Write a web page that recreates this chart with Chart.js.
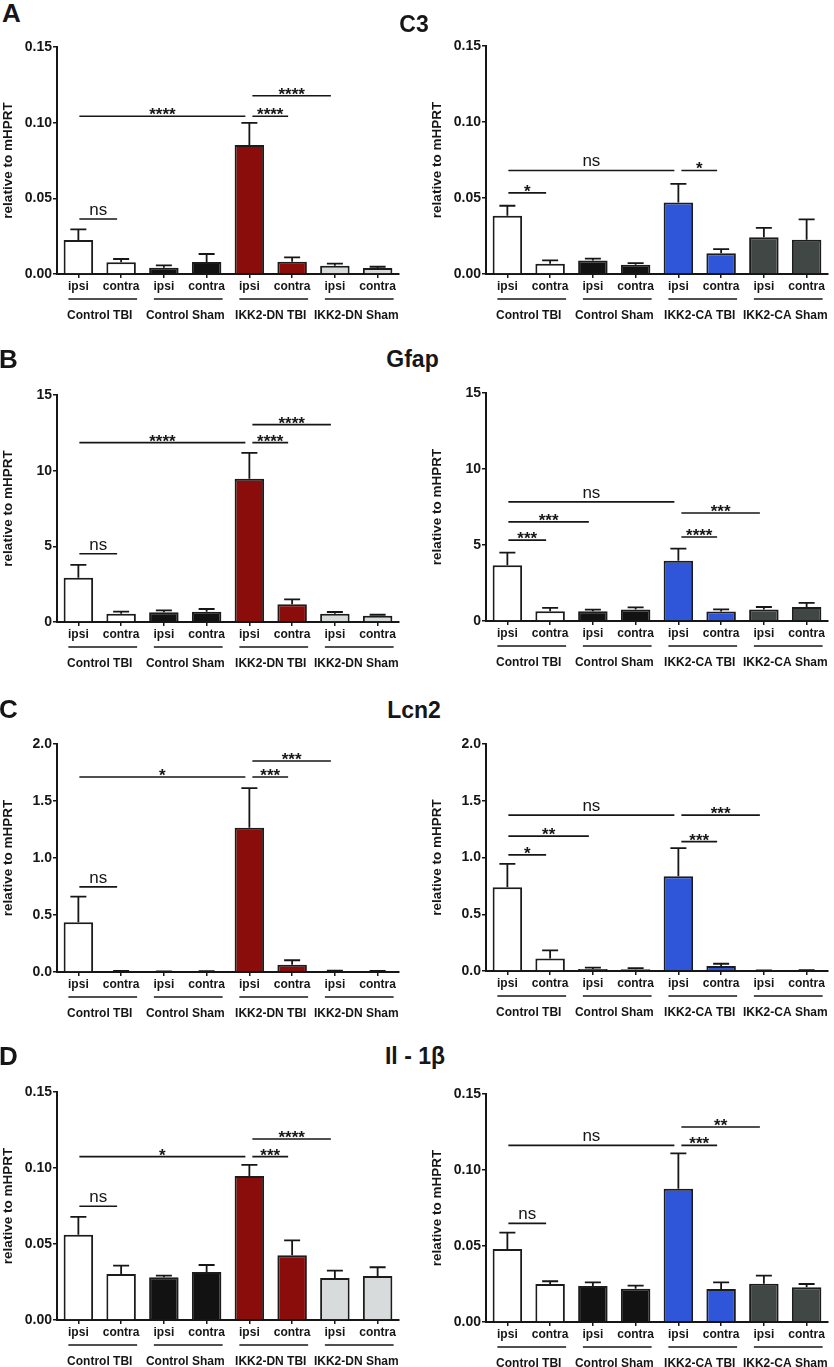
<!DOCTYPE html>
<html><head><meta charset="utf-8">
<script src="https://cdn.jsdelivr.net/npm/chart.js@4.4.0/dist/chart.umd.min.js"></script>
<style>
html,body{margin:0;padding:0;background:#fff;overflow:hidden;}
#fig{position:relative;width:834px;height:1367px;overflow:hidden;font-family:"Liberation Sans",Arial,sans-serif;}
#fig canvas{position:absolute;}
.lbl{position:absolute;font-weight:bold;color:#161616;line-height:1;white-space:nowrap;}
</style></head><body><div id="fig"></div>
<script>
// ---------- DATA ----------
const categories = ['ipsi','contra','ipsi','contra','ipsi','contra','ipsi','contra'];
const groupsDN = ['Control TBI','Control Sham','IKK2-DN TBI','IKK2-DN Sham'];
const groupsCA = ['Control TBI','Control Sham','IKK2-CA TBI','IKK2-CA Sham'];
const geneTitles = ['C3','Gfap','Lcn2','Il - 1β'];
const panelLetters = ['A','B','C','D'];
const yTitle = 'relative to mHPRT';

// C3
const c3DN      = [0.0225,0.0077,0.0042,0.0079,0.0852,0.0081,0.0055,0.0040];
const c3DNErr   = [0.0070,0.0022,0.0015,0.0053,0.0146,0.0029,0.0013,0.0008];
const c3CA      = [0.0383,0.0068,0.0088,0.0061,0.0471,0.0136,0.0241,0.0225];
const c3CAErr   = [0.0066,0.0022,0.0013,0.0011,0.0122,0.0028,0.0063,0.0134];
// Gfap
const gfapDN    = [2.93,0.55,0.64,0.68,9.47,1.17,0.55,0.42];
const gfapDNErr = [0.84,0.13,0.13,0.18,1.70,0.33,0.11,0.06];
const gfapCA    = [3.67,0.64,0.64,0.75,3.97,0.62,0.75,0.92];
const gfapCAErr = [0.83,0.22,0.11,0.15,0.79,0.15,0.17,0.27];
// Lcn2
const lcn2DN    = [0.437,0.005,0.003,0.004,1.265,0.064,0.008,0.006];
const lcn2DNErr = [0.224,0.005,0.002,0.003,0.348,0.039,0.004,0.004];
const lcn2CA    = [0.738,0.111,0.018,0.016,0.835,0.044,0.004,0.005];
const lcn2CAErr = [0.206,0.071,0.011,0.010,0.247,0.020,0.002,0.002];
// Il-1b
const il1bDN    = [0.0561,0.0303,0.0281,0.0316,0.0947,0.0426,0.0276,0.0290];
const il1bDNErr = [0.0117,0.0055,0.0011,0.0046,0.0073,0.0098,0.0049,0.0057];
const il1bCA    = [0.0480,0.0250,0.0237,0.0219,0.0877,0.0217,0.0252,0.0228];
const il1bCAErr = [0.0108,0.0018,0.0024,0.0020,0.0233,0.0044,0.0053,0.0022];

// significance brackets: [fromBar, toBar, yValue, label]
const sigC3DN   = [[0,1,0.0363,'ns'],[0,4,0.1042,'****'],[4,5,0.1042,'****'],[4,6,0.1178,'****']];
const sigC3CA   = [[0,1,0.0534,'*'],[0,4,0.0681,'ns'],[4,5,0.0681,'*']];
const sigGfapDN = [[0,1,4.51,'ns'],[0,4,11.85,'****'],[4,5,11.85,'****'],[4,6,13.04,'****']];
const sigGfapCA = [[0,1,5.32,'***'],[0,2,6.52,'***'],[0,4,7.84,'ns'],[4,5,5.53,'****'],[4,6,7.11,'***']];
const sigLcn2DN = [[0,1,0.747,'ns'],[0,4,1.71,'*'],[4,5,1.71,'***'],[4,6,1.851,'***']];
const sigLcn2CA = [[0,1,1.023,'*'],[0,2,1.188,'**'],[0,4,1.373,'ns'],[4,5,1.14,'***'],[4,6,1.373,'***']];
const sigIl1bDN = [[0,1,0.0748,'ns'],[0,4,0.1075,'*'],[4,5,0.1075,'***'],[4,6,0.1191,'****']];
const sigIl1bCA = [[0,1,0.0649,'ns'],[0,4,0.1162,'ns'],[4,5,0.1162,'***'],[4,6,0.1283,'**']];

// axis ranges
const yMax   = [0.15, 15, 2.0, 0.15];
const yStep  = [0.05, 5, 0.5, 0.05];
const yDec   = [2, 0, 1, 2];

// ---------- STYLE / LAYOUT ----------
const FONT = '"Liberation Sans", Arial, sans-serif';
const INK = '#161616';
const WHITE = '#ffffff', BLACK = '#121212', RED = '#8a0c0b', LGRAY = '#d8dbdb', BLUE = '#2f56d8', DGRAY = '#404745';
const colorsDN = [WHITE,WHITE,BLACK,BLACK,RED,RED,LGRAY,LGRAY];
const colorsCA = [WHITE,WHITE,BLACK,BLACK,BLUE,BLUE,DGRAY,DGRAY];

const panels = [
  {row:0, left:0,   top:47,    bottom:274,   vals:c3DN,   err:c3DNErr,   sig:sigC3DN,   groups:groupsDN, colors:colorsDN},
  {row:0, left:429, top:45.7,  bottom:274,   vals:c3CA,   err:c3CAErr,   sig:sigC3CA,   groups:groupsCA, colors:colorsCA},
  {row:1, left:0,   top:395,   bottom:622,   vals:gfapDN, err:gfapDNErr, sig:sigGfapDN, groups:groupsDN, colors:colorsDN},
  {row:1, left:429, top:393.3, bottom:621,   vals:gfapCA, err:gfapCAErr, sig:sigGfapCA, groups:groupsCA, colors:colorsCA},
  {row:2, left:0,   top:744.3, bottom:972,   vals:lcn2DN, err:lcn2DNErr, sig:sigLcn2DN, groups:groupsDN, colors:colorsDN},
  {row:2, left:429, top:743.7, bottom:970.3, vals:lcn2CA, err:lcn2CAErr, sig:sigLcn2CA, groups:groupsCA, colors:colorsCA},
  {row:3, left:0,   top:1091.7,bottom:1319.7,vals:il1bDN, err:il1bDNErr, sig:sigIl1bDN, groups:groupsDN, colors:colorsDN},
  {row:3, left:429, top:1094,  bottom:1322,  vals:il1bCA, err:il1bCAErr, sig:sigIl1bCA, groups:groupsCA, colors:colorsCA}
];

const PADTOP = 12, XH = 25, X2H = 30, YW = 57, CW = 405, PADR = 6;

function extrasPlugin(p){
  return {
    id:'extras',
    afterDatasetsDraw(chart){
      const {ctx, scales:{x, y}} = chart;
      ctx.save();
      // error bars (upper whisker)
      ctx.strokeStyle = INK; ctx.lineWidth = 1.8; ctx.lineCap = 'butt';
      p.vals.forEach((v,i)=>{
        const cx = x.getPixelForValue(i);
        const yb = y.getPixelForValue(v);
        const yt = y.getPixelForValue(v + p.err[i]);
        ctx.beginPath();
        ctx.moveTo(cx, yb); ctx.lineTo(cx, yt);
        ctx.moveTo(cx-8, yt); ctx.lineTo(cx+8, yt);
        ctx.stroke();
      });
      // significance brackets
      ctx.lineWidth = 1.6;
      p.sig.forEach(([a,b,val,label])=>{
        const x1 = x.getPixelForValue(a) + (a===4 ? 3 : 1);
        const x2 = x.getPixelForValue(b) - 4;
        const yy = y.getPixelForValue(val);
        ctx.beginPath(); ctx.moveTo(x1, yy); ctx.lineTo(x2, yy); ctx.stroke();
        ctx.fillStyle = INK; ctx.textAlign = 'center'; ctx.textBaseline = 'alphabetic';
        if (label === 'ns') {
          ctx.font = '17px ' + FONT;
          ctx.fillText(label, (x1+x2)/2, yy - 4);
        } else {
          ctx.font = 'bold 17px ' + FONT;
          ctx.fillText(label, (x1+x2)/2, yy + 4);
        }
      });
      // group underline segments
      ctx.lineWidth = 1.6;
      const gy = x.bottom;
      for (let g=0; g<4; g++){
        const a = x.getPixelForValue(2*g) - 10;
        const b = x.getPixelForValue(2*g+1) + 16;
        ctx.beginPath(); ctx.moveTo(a, gy); ctx.lineTo(b, gy); ctx.stroke();
      }
      ctx.restore();
    }
  };
}

const fig = document.getElementById('fig');

panels.forEach(p=>{
  const r = p.row;
  const plotH = p.bottom - p.top;
  const H = Math.round(PADTOP + plotH + XH + X2H);
  const cv = document.createElement('canvas');
  cv.width = CW; cv.height = H;
  cv.style.left = p.left + 'px';
  cv.style.top = (p.top - PADTOP) + 'px';
  cv.style.width = CW + 'px'; cv.style.height = H + 'px';
  fig.appendChild(cv);
  const tickFont = {family:FONT, size:12, weight:'bold'};
  new Chart(cv, {
    type:'bar',
    data:{
      labels:categories,
      datasets:[{
        data:p.vals,
        backgroundColor:p.colors,
        borderColor:'#1c1c1c',
        borderWidth:2,
        borderSkipped:'start',
        barPercentage:0.69,
        categoryPercentage:1
      }]
    },
    options:{
      responsive:false, animation:false, devicePixelRatio:1,
      layout:{padding:{top:PADTOP, left:0, right:PADR, bottom:0}},
      plugins:{legend:{display:false}, tooltip:{enabled:false}, title:{display:false}},
      scales:{
        x:{
          type:'category', position:'bottom', weight:0, offset:true,
          grid:{display:true, drawOnChartArea:false, drawTicks:true, tickLength:4, offset:false, color:INK, lineWidth:1.5},
          border:{display:true, color:INK, width:2},
          ticks:{font:tickFont, color:INK, padding:1, maxRotation:0, minRotation:0, autoSkip:false},
          afterFit:s=>{ s.height = XH; s.paddingLeft = 0; s.paddingRight = 0; }
        },
        x2:{
          type:'category', labels:p.groups, position:'bottom', weight:1, offset:true,
          grid:{display:false, drawTicks:false, drawOnChartArea:false},
          border:{display:false},
          ticks:{font:tickFont, color:INK, padding:9, maxRotation:0, minRotation:0, autoSkip:false},
          afterFit:s=>{ s.height = X2H; s.paddingLeft = 0; s.paddingRight = 0; }
        },
        y:{
          min:0, max:yMax[r],
          ticks:{stepSize:yStep[r], callback:v=>Number(v).toFixed(yDec[r]), font:{family:FONT, size:14, weight:'bold'}, color:INK, padding:1},
          grid:{display:true, drawOnChartArea:false, drawTicks:true, tickLength:4, color:INK, lineWidth:1.5},
          border:{display:true, color:INK, width:2},
          title:{display:true, text:yTitle, font:{family:FONT, size:13.5, weight:'bold'}, color:INK, padding:0},
          afterFit:s=>{ s.width = YW; s.paddingTop = 0; s.paddingBottom = 0; }
        }
      }
    },
    plugins:[extrasPlugin(p)]
  });
});

// gene titles and panel letters
const titlePos = [[414,32],[412.5,367.7],[414,718],[415,1064]];
const letterPos = [[2,21.7],[-1,368],[-1,718],[-1,1065]];
geneTitles.forEach((t,i)=>{
  const d = document.createElement('div');
  d.className = 'lbl'; d.textContent = t;
  d.style.fontSize = '23px';
  d.style.width = '300px'; d.style.textAlign = 'center';
  d.style.left = (titlePos[i][0] - 150) + 'px';
  d.style.top = (titlePos[i][1] - 23*0.8465) + 'px';
  fig.appendChild(d);
});
panelLetters.forEach((t,i)=>{
  const d = document.createElement('div');
  d.className = 'lbl'; d.textContent = t;
  d.style.fontSize = '26px';
  d.style.left = letterPos[i][0] + 'px';
  d.style.top = (letterPos[i][1] - 26*0.8465) + 'px';
  fig.appendChild(d);
});
</script>
</body></html>
